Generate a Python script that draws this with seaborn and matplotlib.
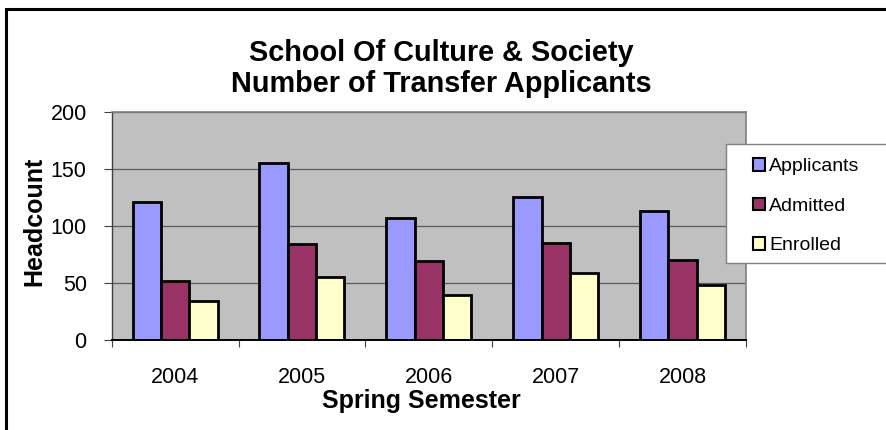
import matplotlib
matplotlib.use("Agg")
import matplotlib.pyplot as plt
from matplotlib.patches import Patch, Rectangle
import pandas as pd
import seaborn as sns

YEARS = ["2004", "2005", "2006", "2007", "2008"]
APPLICANTS = [121, 155, 107, 125, 113]
ADMITTED = [52, 84, 69, 85, 70]
ENROLLED = [34, 55, 40, 59, 48]

SERIES = ["Applicants", "Admitted", "Enrolled"]
COLORS = ["#9999FF", "#993366", "#FFFFCC"]

df = pd.DataFrame({
    "year": YEARS,
    "Applicants": APPLICANTS,
    "Admitted": ADMITTED,
    "Enrolled": ENROLLED,
}).melt(id_vars="year", var_name="series", value_name="count")

sns.set_style("white")
plt.rcParams["font.family"] = ["Liberation Sans", "DejaVu Sans"]
plt.rcParams["text.color"] = "black"
plt.rcParams["axes.labelcolor"] = "black"
plt.rcParams["xtick.color"] = "black"
plt.rcParams["ytick.color"] = "black"

fig = plt.figure(figsize=(8.86, 4.30), dpi=100)
W, H = 886, 430
ax = fig.add_axes([111.7 / W, 1 - 340.3 / H, (746 - 111.7) / W, (340.3 - 111.7) / H])
ax.set_facecolor("#C0C0C0")

sns.barplot(
    data=df, x="year", y="count", hue="series", hue_order=SERIES,
    palette=COLORS, width=0.67, gap=0, edgecolor="black", linewidth=2.0,
    legend=False, ax=ax, saturation=1,
)

ax.set_ylim(0, 200)
ax.set_yticks([0, 50, 100, 150, 200])
ax.set_xlim(-0.5, 4.5)
ax.yaxis.grid(True, color="#5a5a5a", linewidth=0.9)
ax.set_axisbelow(True)

# category boundary ticks
ax.set_xticks([i - 0.5 for i in range(len(YEARS) + 1)], minor=True)
ax.tick_params(axis="x", which="major", length=0, pad=19, labelsize=15.5, labelcolor="black")
ax.tick_params(axis="x", which="minor", length=5, width=0.8, color="#404040", direction="out", bottom=True)
ax.tick_params(axis="y", which="major", length=6, width=0.8, color="#404040", direction="out",
               left=True, pad=12, labelsize=15.5, labelcolor="black")

for side in ("top", "right"):
    ax.spines[side].set_color("#808080")
    ax.spines[side].set_linewidth(1.2)
ax.spines["left"].set_color("#404040")
ax.spines["left"].set_linewidth(1.0)
ax.spines["bottom"].set_color("black")
ax.spines["bottom"].set_linewidth(1.4)

ax.set_xlabel("Spring Semester", fontsize=18, fontweight="bold", color="black")
ax.set_ylabel("Headcount", fontsize=18, fontweight="bold", color="black")
ax.xaxis.set_label_coords(0.489, -0.215)
ax.yaxis.set_label_coords(-0.103, 0.52)

# title
fig.text(441 / W, 1 - 61 / H, "School Of Culture & Society", ha="center", va="baseline",
         fontsize=20.8, fontweight="bold")
fig.text(441 / W, 1 - 92 / H, "Number of Transfer Applicants", ha="center", va="baseline",
         fontsize=20.8, fontweight="bold")

# legend box
fig.patches.append(Rectangle((725.7 / W, 1 - 263.3 / H), 200 / W, 119 / H,
                             transform=fig.transFigure, facecolor="white",
                             edgecolor="#808080", linewidth=1.0, zorder=5))
handles = [Patch(facecolor=c, edgecolor="black", linewidth=1.5) for c in COLORS]
leg = fig.legend(handles, SERIES, loc="upper left", bbox_to_anchor=(753 / W, 1 - 158 / H),
                 frameon=False, fontsize=14, handlelength=0.62, handleheight=0.62,
                 handletextpad=0.2, labelspacing=1.15, borderpad=0, borderaxespad=0)
leg.set_zorder(6)

# outer chart frame
fig.patches.append(Rectangle((6.3 / W, -0.1), 1.2, 1 - 9.2 / H + 0.1,
                             transform=fig.transFigure, facecolor="none",
                             edgecolor="black", linewidth=2.2, zorder=10))

fig.savefig("out.png", dpi=100)
